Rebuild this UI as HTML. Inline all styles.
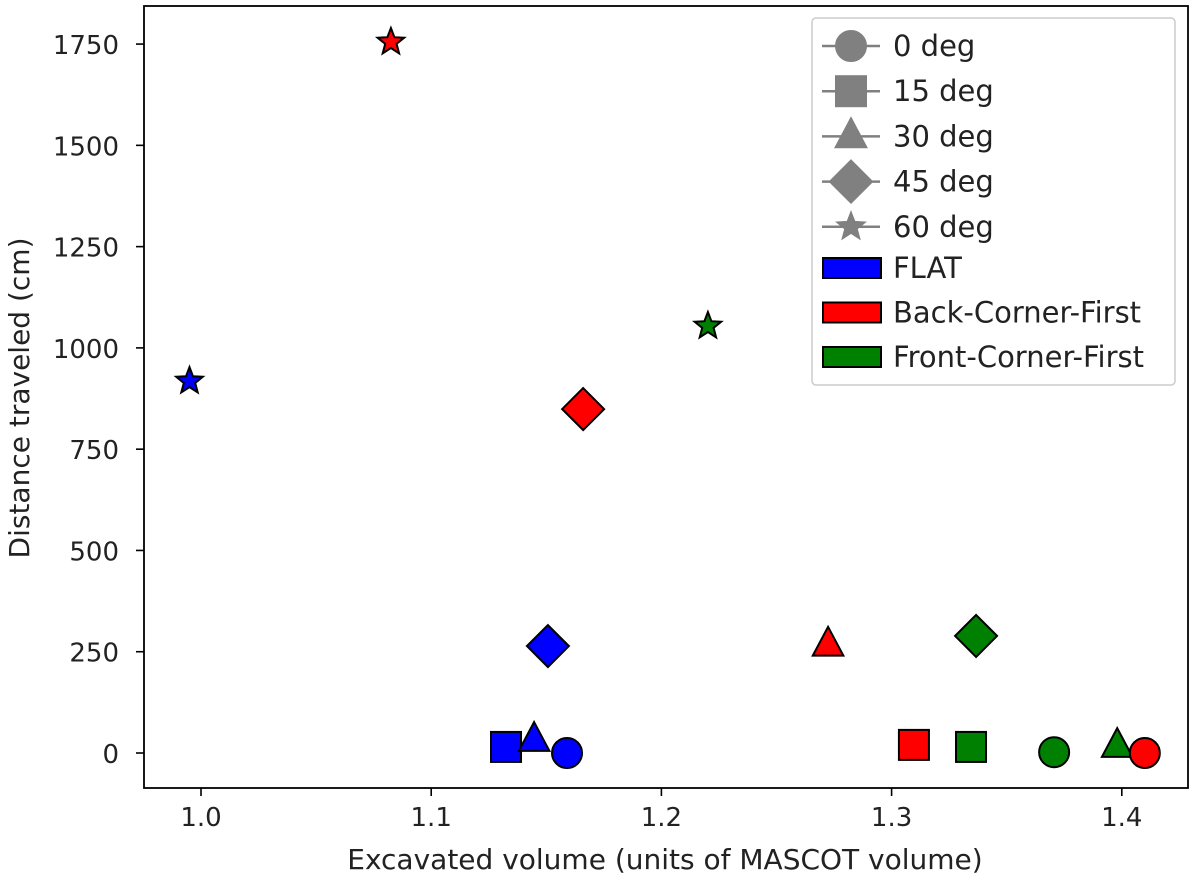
<!DOCTYPE html>
<html><head><meta charset="utf-8"><style>
body{margin:0;background:#fff;font-family:"Liberation Sans","DejaVu Sans",sans-serif}
svg text{font-family:"DejaVu Sans","Liberation Sans",sans-serif;fill:#222}
</style></head><body>
<svg id="chart" width="1200" height="882" viewBox="0 0 1200 882">
<rect x="144" y="6" width="1044" height="782" fill="#fff" stroke="#000" stroke-width="1.8"/>
<g id="axes"></g>
<g id="marks"></g>
<text x="665" y="869" font-size="28" text-anchor="middle">Excavated volume (units of MASCOT volume)</text>
<text transform="translate(29,398) rotate(-90)" font-size="28" text-anchor="middle">Distance traveled (cm)</text>
<g id="legend"></g>
</svg>
<script>
const xs=[0.995,1.0825,1.2202,1.166,1.1507,1.2724,1.3367,1.1325,1.1447,1.159,1.3097,1.3345,1.3706,1.398,1.41];
const ys=[918,1755,1054,849,264,267,289,15,32,0,20,15,2,17,0];
const shapes=["star","star","star","diamond","diamond","triangle","diamond","square","triangle","circle","square","square","circle","triangle","circle"];
const colors=["blue","red","green","red","blue","red","green","blue","blue","blue","red","green","green","green","red"];
const xTicks=[1.0,1.1,1.2,1.3,1.4];
const yTicks=[0,250,500,750,1000,1250,1500,1750];
const legendShapes=["circle","square","triangle","diamond","star"];
const legendLabels=["0 deg","15 deg","30 deg","45 deg","60 deg"];
const patchColors=["blue","red","green"];
const patchLabels=["FLAT","Back-Corner-First","Front-Corner-First"];
const X=v=>201+(v-1.0)*2302;
const Y=v=>753-v*0.4051;
const NS="http://www.w3.org/2000/svg";
function mk(tag,attrs,parent){const e=document.createElementNS(NS,tag);for(const k in attrs)e.setAttribute(k,attrs[k]);parent.appendChild(e);return e;}
function shape(s,cx,cy,fill,parent,sc){sc=sc||1;let e;
 if(s==="circle")e=mk("circle",{cx:cx,cy:cy,r:15*sc},parent);
 else if(s==="square")e=mk("rect",{x:cx-15*sc,y:cy-15*sc,width:30*sc,height:30*sc},parent);
 else if(s==="triangle"){const r=18*sc;e=mk("polygon",{points:`${cx},${cy-r} ${cx+r*0.85},${cy+r*0.6} ${cx-r*0.85},${cy+r*0.6}`},parent);}
 else if(s==="diamond"){const r=21*sc;e=mk("polygon",{points:`${cx},${cy-r} ${cx+r},${cy} ${cx},${cy+r} ${cx-r},${cy}`},parent);}
 else {const R=14*sc,r=6*sc;let p=[];for(let i=0;i<10;i++){const a=-Math.PI/2+i*Math.PI/5,rr=i%2?r:R;p.push((cx+rr*Math.cos(a)).toFixed(1)+","+(cy+rr*Math.sin(a)).toFixed(1));}e=mk("polygon",{points:p.join(" ")},parent);}
 e.setAttribute("fill",fill);e.setAttribute("stroke",fill==="gray"?"gray":"#000");e.setAttribute("stroke-width",2);return e;}
const axes=document.getElementById("axes");
xTicks.forEach(t=>{const x=X(t);
 const l=mk("line",{x1:x,x2:x,y1:788,y2:796,stroke:"#000","stroke-width":1.6},axes);
 
 
 const tx=mk("text",{x:x,y:826,"font-size":26,"text-anchor":"middle"},axes);tx.textContent=t.toFixed(1);
 
 });
yTicks.forEach(t=>{const y=Y(t);
 const l=mk("line",{x1:136,x2:144,y1:y,y2:y,stroke:"#000","stroke-width":1.6},axes);
 
 
 const tx=mk("text",{x:119,y:y+10,"font-size":26,"text-anchor":"end"},axes);tx.textContent=t;
 
 });
const marks=document.getElementById("marks");
xs.forEach((v,i)=>{const e=shape(shapes[i],X(v),Y(ys[i]),colors[i],marks);
 
 });
const lg=document.getElementById("legend");
mk("rect",{x:812,y:18,width:363,height:367,rx:4,fill:"#fff",stroke:"#ccc","stroke-width":1.5},lg);
legendLabels.forEach((lab,i)=>{const y=46+i*45.2;
 mk("line",{x1:822,x2:880,y1:y,y2:y,stroke:"gray","stroke-width":2.5},lg);
 const e=shape(legendShapes[i],851,y,"gray",lg,1.0);
 
 
 const t=mk("text",{x:893,y:y+10,"font-size":29},lg);t.textContent=lab;
 
 });
patchLabels.forEach((lab,i)=>{const y=268+i*44.5;
 const r=mk("rect",{x:823,y:y-10,width:58,height:20,fill:patchColors[i],stroke:"#000","stroke-width":2},lg);
 
 
 const t=mk("text",{x:893,y:y+10,"font-size":29},lg);t.textContent=lab;
 
 });
</script>
</body></html>
